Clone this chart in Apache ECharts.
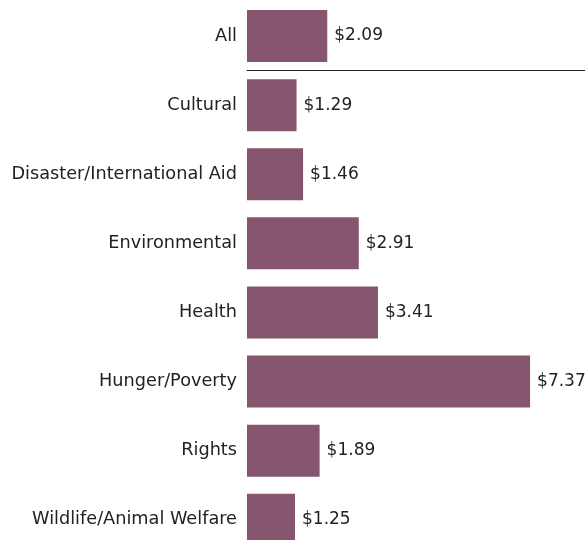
<!DOCTYPE html>
<html><head><meta charset="utf-8">
<script src="https://cdn.jsdelivr.net/npm/echarts@6/dist/echarts.min.js"></script>
<style>html,body{margin:0;padding:0;background:#fff}#c{width:585px;height:540px}</style>
</head><body><div id="c"></div>
<script>
const overallCategory = ["All"];
const overallValue = [2.09];
const categories = ["Cultural","Disaster/International Aid","Environmental","Health","Hunger/Poverty","Rights","Wildlife/Animal Welfare"];
const values = [1.29,1.46,2.91,3.41,7.37,1.89,1.25];

const BAND = 69.1, TOP = 1.5;
const catFont = {fontFamily:'DejaVu Sans',fontSize:17.7,color:'#222'};
const labelOpt = {show:true,position:'right',distance:7,fontFamily:'DejaVu Sans',fontSize:17,color:'#222',
  formatter:p=>'$'+p.value.toFixed(2)};
const chart = echarts.init(document.getElementById('c'));
chart.setOption({
  animation:false,
  grid:[
    {left:247,right:0,top:TOP,height:BAND*overallCategory.length,outerBoundsMode:'none'},
    {left:247,right:0,top:TOP+BAND*overallCategory.length,height:BAND*categories.length,outerBoundsMode:'none'}
  ],
  xAxis:[
    {gridIndex:0,type:'value',min:0,max:8.8,show:false},
    {gridIndex:1,type:'value',min:0,max:8.8,position:'top',
      axisLine:{show:true,lineStyle:{color:'#222',width:1}},
      axisTick:{show:false},axisLabel:{show:false},splitLine:{show:false}}
  ],
  yAxis:[
    {gridIndex:0,type:'category',data:overallCategory,inverse:true,
      axisLine:{show:false},axisTick:{show:false},splitLine:{show:false},
      axisLabel:Object.assign({margin:10},catFont)},
    {gridIndex:1,type:'category',data:categories,inverse:true,
      axisLine:{show:false},axisTick:{show:false},splitLine:{show:false},
      axisLabel:Object.assign({margin:10},catFont)}
  ],
  series:[
    {type:'bar',xAxisIndex:0,yAxisIndex:0,data:overallValue,barWidth:52,
      itemStyle:{color:'#86566e'},label:labelOpt},
    {type:'bar',xAxisIndex:1,yAxisIndex:1,data:values,barWidth:52,
      itemStyle:{color:'#86566e'},label:labelOpt}
  ]
});
</script></body></html>
